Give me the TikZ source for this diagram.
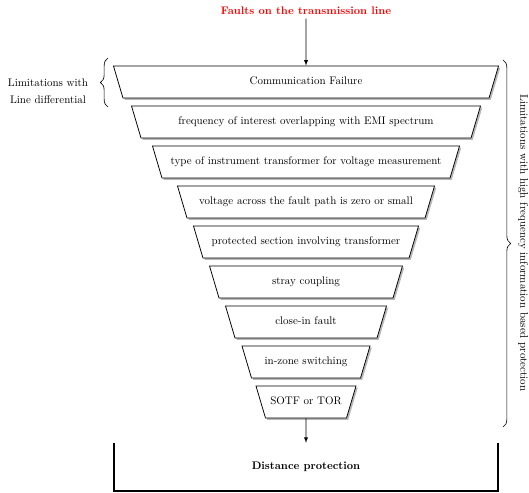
\documentclass[tikz,border=0pt]{standalone}
\usetikzlibrary{shapes.geometric,shadows,decorations.pathreplacing}
\tikzset{
 funnel/.style={trapezium,draw,line width=0.7pt,fill=white,trapezium left angle=73.5,trapezium right angle=73.5,
  shape border rotate=180,trapezium stretches body,text height=7pt,text depth=2pt,inner xsep=2pt,inner ysep=10.1pt,
  drop shadow={shadow xshift=1.6pt,shadow yshift=-1.6pt,fill=black!40,opacity=.7}},
 lim/.style={decorate,decoration={brace,amplitude=7pt},line width=0.6pt}
}
\begin{document}
\begin{tikzpicture}[x=0.91pt,y=-0.91pt]
 \useasboundingbox (0,0) rectangle (529,492);
 \node[text=red,font=\bfseries] (fault) at (306,11) {Faults on the transmission line};
 \node[funnel,minimum width=350.4pt] (f1) at (306,82) {Communication Failure};
 \node[funnel,minimum width=317.6pt] (f2) at (306,122) {frequency of interest overlapping with EMI spectrum};
 \node[funnel,minimum width=279.4pt] (f3) at (306,162) {type of instrument transformer for voltage measurement};
 \node[funnel,minimum width=233.9pt] (f4) at (306,202) {voltage across the fault path is zero or small};
 \node[funnel,minimum width=204.8pt] (f5) at (306,242) {protected section involving transformer};
 \node[funnel,minimum width=175.6pt] (f6) at (306,282) {stray coupling};
 \node[funnel,minimum width=146.5pt] (f7) at (306,322) {close-in fault};
 \node[funnel,minimum width=116.5pt] (f8) at (306,362) {in-zone switching};
 \node[funnel,minimum width=91pt] (f9) at (306,402) {SOTF or TOR};
 \node[font=\bfseries,minimum width=349.4pt,minimum height=43.7pt] (dp) at (306,467) {Distance protection};
 \draw[line width=1.6pt] (dp.north west) -- (dp.south west) -- (dp.south east) -- (dp.north east);
 \draw[-latex,line width=0.7pt] (fault) -- (f1);
 \draw[-latex,line width=0.7pt] (f9) -- (dp);
 % braces
 \coordinate (ldb) at (108,107);
 \coordinate (ldt) at (108,58);
 \draw[lim] (ldb) -- (ldt);
 \node[align=center] (ld) at (48,91) {Limitations with\\[3.5pt]Line differential};
 \coordinate (hft) at (503,60);
 \coordinate (hfb) at (503,427);
 \draw[lim] (hft) -- (hfb);
 \node[rotate=-90] (hf) at (523,243) {Limitations with high frequency information based protection};
\end{tikzpicture}
\end{document}
